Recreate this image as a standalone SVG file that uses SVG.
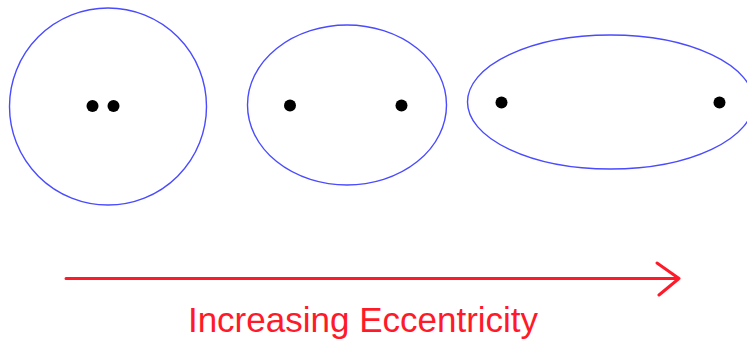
<svg xmlns="http://www.w3.org/2000/svg" width="747" height="342" viewBox="0 0 747 342">
<style>
.orbit{fill:none;stroke:#4a4aff;stroke-width:1.4}
.focus{fill:#000}
.arrow{fill:none;stroke:#ff1a2a;stroke-width:3;stroke-linecap:round;stroke-linejoin:round}
.label{font-family:"Liberation Sans",Arial,sans-serif;font-size:35px;fill:#ff1a2a}
</style>
<rect width="747" height="342" fill="#fff"/>
<g id="ellipse1">
<ellipse class="orbit" cx="108" cy="106.5" rx="98.5" ry="98.5"/>
<circle class="focus" cx="92.5" cy="106" r="6"/>
<circle class="focus" cx="113.5" cy="106" r="6"/>
</g>
<g id="ellipse2">
<ellipse class="orbit" cx="347" cy="105" rx="99.5" ry="80"/>
<circle class="focus" cx="290" cy="105.5" r="6"/>
<circle class="focus" cx="401.5" cy="105.5" r="6"/>
</g>
<g id="ellipse3">
<ellipse class="orbit" cx="610.5" cy="102" rx="143" ry="67"/>
<circle class="focus" cx="501.5" cy="102.5" r="6"/>
<circle class="focus" cx="719.5" cy="102.5" r="6"/>
</g>
<g id="connectors">
<path class="arrow" d="M66 278.5 H679 M657 263 L679 278.5 L659 295"/>
</g>
<text class="label" x="363" y="332" text-anchor="middle">Increasing Eccentricity</text>
</svg>
